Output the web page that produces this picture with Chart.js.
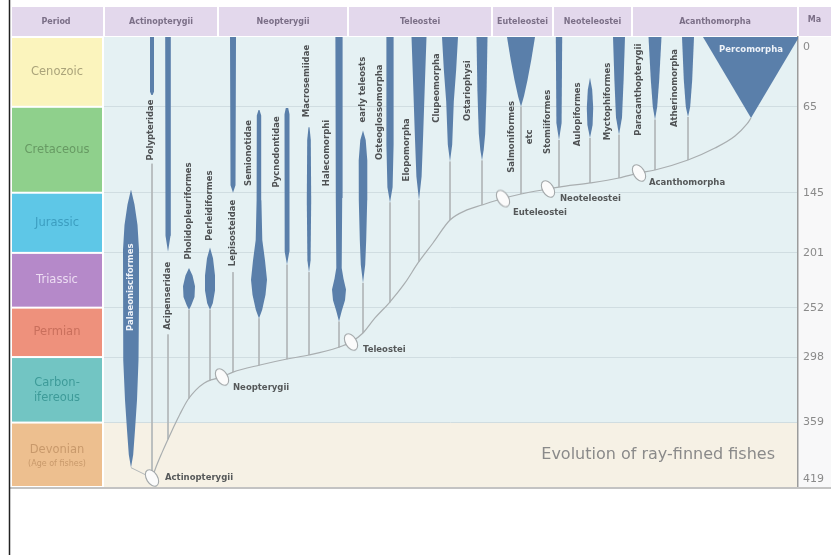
<!DOCTYPE html>
<html>
<head>
<meta charset="utf-8">
<script src="https://cdn.jsdelivr.net/npm/chart.js@4.4.0/dist/chart.umd.min.js"></script>
<style>
  body { margin: 0; background: #fff; }
  canvas { display: block; }
</style>
</head>
<body>
<canvas id="fishchart" width="831" height="555"></canvas>
<script>
// geological time scale, millions of years ago
const periodNames = ["Cenozoic", "Cretaceous", "Jurassic", "Triassic", "Permian", "Carbon-\nifereous", "Devonian\n(Age of fishes)"];
const periodStart = [0, 65, 145, 201, 252, 298, 359];
const periodEnd = [65, 145, 201, 252, 298, 359, 419];
const periodColors = ["#fbf4bd", "#8fd08c", "#5ec7e7", "#b589c9", "#ee917c", "#72c5c3", "#edbf8f"];
const periodTextColors = ["#aaa37a", "#679a63", "#3c9ec0", "#ecdcf2", "#c96f5c", "#3e9b99", "#c8996b"];
const maTicks = [0, 65, 145, 201, 252, 298, 359, 419];

// header groups (x in chart units)
const groupNames = ["Actinopterygii", "Neopterygii", "Teleostei", "Euteleostei", "Neoteleostei", "Acanthomorpha"];
const groupEdges = [0, 114, 244, 388, 449, 528, 694];

// lineages
const lineageNames = ["Palaeonisciformes", "Polypteridae", "Acipenseridae", "Pholidopleuriformes", "Perleidiformes",
  "Lepisosteidae", "Semionotidae", "Pycnodontidae", "Macrosemiidae", "Halecomorphi", "early teleosts",
  "Osteoglossomorpha", "Elopomorpha", "Clupeomorpha", "Ostariophysi", "Salmoniformes\netc", "Stomiiformes",
  "Aulopiformes", "Myctophiformes", "Paracanthopterygii", "Atherinomorpha", "Percomorpha"];
const lineageX = [27, 48, 64, 85, 106, 129, 155, 183, 205, 235, 259, 286, 315, 346, 378, 417, 455, 486, 515, 551, 584, 647];
// diversity profiles: [Ma, half width]
const profiles = [
  [[142, 0], [156, 3.5], [175, 6.5], [198, 8], [245, 8], [301, 7.5], [338, 6], [366, 4], [389, 2.2], [401, 0]],
  [[0, 2], [51, 2], [54, 0.6]],
  [[0, 2.8], [185, 2.5], [200, 0]],
  [[215, 0], [222, 3.5], [232, 6], [242, 5.5], [250, 2.2], [254, 0]],
  [[196, 0], [206, 3], [222, 5], [236, 5], [248, 2.8], [254, 0]],
  [[0, 3], [138, 2.5], [145, 0]],
  [[68, 0.5], [73, 2.2], [152, 2.4], [189, 3.3], [208, 6], [226, 8], [240, 6.5], [254, 3.2], [262, 0]],
  [[66, 1.2], [72, 2.5], [200, 2.3], [212, 0]],
  [[84, 0.5], [96, 1.8], [152, 2.2], [208, 1.6], [219, 0]],
  [[0, 3.6], [150, 3.2], [215, 2.7], [225, 4.5], [235, 7], [245, 6], [255, 2.8], [265, 0]],
  [[87, 0], [96, 2.7], [115, 4.3], [152, 4.2], [189, 3.2], [212, 2.2], [229, 0]],
  [[0, 3.6], [100, 3.6], [140, 2.6], [154, 0]],
  [[0, 7.5], [40, 6], [90, 4.2], [130, 2.6], [152, 0]],
  [[0, 8], [30, 6.2], [60, 3.8], [100, 2.2], [116, 0]],
  [[0, 5.5], [50, 4.6], [90, 3.2], [105, 1.7], [115, 0]],
  [[0, 14], [20, 10.5], [40, 6.5], [55, 3], [65, 0]],
  [[0, 3.2], [80, 2.6], [96, 0]],
  [[38, 0], [49, 2.2], [66, 3.2], [82, 2.6], [94, 0]],
  [[0, 6], [40, 4.6], [75, 3], [91, 0]],
  [[0, 6.5], [40, 4.2], [65, 2.2], [77, 0]],
  [[0, 6], [40, 4.2], [65, 2.2], [74.5, 0]],
  [[0, 48], [75.5, 0]]
];
// thin lines down to the backbone: [from Ma, to Ma]
const stemTop = [401, 118, 277, 254, 254, 219, 262, 212, 219, 265, 229, 154, 152, 116, 115, 65, 96, 94, 91, 77, 74.5, null];
const stemJoin = [410.6, 410.6, 374.5, 336.4, 319.8, 312, 305.7, 300, 296, 289, 275.6, 247, 209, 170.3, 156.3, 146.2, 139.7, 136, 131.3, 123.8, 114.5, null];
const stemToNode = {"Palaeonisciformes": "Actinopterygii"};

// label anchors
const labelX = [27, 47, 64, 85, 106, 129, 145, 173, 203, 223, 259, 276, 303, 333, 364, 417, 444, 474, 504, 535, 571, 647];
const labelMa = [233, 86.6, 241, 162, 157, 182.5, 108, 107, 41, 108, 49, 70, 105, 47.5, 50, 93, 79, 72, 60, 49, 47.5, 12];
const whiteLabels = ["Palaeonisciformes", "Percomorpha"];

// backbone of the tree
const backboneX = [48, 53, 58, 64, 70, 76, 84, 92, 100, 108, 118, 129, 156, 183, 205, 234, 247, 259, 271, 285, 301, 314, 329, 346, 363, 378, 399, 417, 444, 455, 486, 515, 535, 551, 584, 611, 631, 643, 647];
const backboneMa = [410.6, 398, 387, 374.5, 362.5, 351, 337.5, 328.5, 322.3, 319, 316.6, 312, 305.4, 299.8, 296.1, 289.1, 284, 275.6, 261.6, 247.7, 229, 210.4, 191.8, 170.4, 161, 156.4, 150.4, 146.2, 141.5, 139.7, 135.9, 131.3, 126.6, 123.8, 114.5, 103.4, 92.2, 81, 75.4];

// branching nodes
const nodeNames = ["Actinopterygii", "Neopterygii", "Teleostei", "Euteleostei", "Neoteleostei", "Acanthomorpha"];
const nodeX = [48, 118, 247, 399, 444, 535];
const nodeMa = [410.6, 316.6, 284, 150.4, 141.5, 126.6];
const nodeLabelDx = [13, 11, 12, 10, 12, 10];
const nodeLabelDy = [0, 11, 8, 14, 10, 10];

const spindleBlue = "#5a7faa";
const labelFont = "bold 8.5px 'DejaVu Sans'";

function makeNodeIcon() {
    const c = document.createElement("canvas");
    c.width = 22;
    c.height = 24;
    const g = c.getContext("2d");
    g.translate(11, 12);
    g.rotate(-0.55);
    g.beginPath();
    g.ellipse(0, 0, 5.5, 9, 0, 0, Math.PI * 2);
    g.fillStyle = "#fbfbfb";
    g.fill();
    g.strokeStyle = "#a3a8aa";
    g.lineWidth = 1.1;
    g.stroke();
    return c;
}

function outline(i) {
    const x0 = lineageX[i];
    const left = profiles[i].map(p => ({x: x0 - p[1], y: p[0]}));
    const right = profiles[i].slice().reverse().map(p => ({x: x0 + p[1], y: p[0]}));
    return left.concat(right);
}

const datasets = [];
datasets.push({
    label: "nodes",
    data: nodeX.map((x, i) => ({x: x, y: nodeMa[i]})),
    pointStyle: makeNodeIcon(),
    pointRadius: 8,
    showLine: false,
    order: 0
});
lineageNames.forEach((name, i) => {
    datasets.push({
        label: name,
        data: outline(i),
        showLine: true,
        fill: "shape",
        backgroundColor: spindleBlue,
        borderColor: "transparent",
        borderWidth: 0,
        pointRadius: 0,
        order: 1
    });
});
datasets.push({
    label: "backbone",
    data: backboneX.map((x, i) => ({x: x, y: backboneMa[i]})),
    showLine: true,
    fill: false,
    borderColor: "#a9aeb0",
    borderWidth: 1.2,
    cubicInterpolationMode: "monotone",
    pointRadius: 0,
    order: 2
});
lineageNames.forEach((name, i) => {
    if (stemTop[i] === null) return;
    let endX = lineageX[i];
    if (stemToNode[name]) endX = nodeX[nodeNames.indexOf(stemToNode[name])];
    datasets.push({
        label: name + " stem",
        data: [{x: lineageX[i], y: stemTop[i]}, {x: endX, y: stemJoin[i]}],
        showLine: true,
        fill: false,
        borderColor: "#b3b8ba",
        borderWidth: 1,
        pointRadius: 0,
        order: 3
    });
});

const decorPlugin = {
    id: "decor",
    beforeDraw(chart) {
        const ctx = chart.ctx;
        const a = chart.chartArea;
        const xs = chart.scales.x, ys = chart.scales.y;
        ctx.save();
        // plot background
        ctx.fillStyle = "#e5f1f3";
        ctx.fillRect(a.left, a.top, a.right - a.left, ys.getPixelForValue(359) - a.top);
        ctx.fillStyle = "#f6f1e5";
        ctx.fillRect(a.left, ys.getPixelForValue(359), a.right - a.left, a.bottom - ys.getPixelForValue(359));
        // Ma column
        ctx.fillStyle = "#f8f8f9";
        ctx.fillRect(a.right, a.top, chart.width - a.right, a.bottom - a.top);
        // header band
        ctx.fillStyle = "#e3d8ec";
        ctx.fillRect(12, 7, chart.width - 12, a.top - 8);
        ctx.font = "bold 8px 'DejaVu Sans'";
        ctx.fillStyle = "#7b6f87";
        ctx.textAlign = "center";
        ctx.textBaseline = "middle";
        ctx.fillText("Period", 56, 22);
        ctx.fillText("Ma", (a.right + chart.width) / 2, 20);
        groupNames.forEach((g, i) => {
            const x1 = xs.getPixelForValue(groupEdges[i]);
            const x2 = xs.getPixelForValue(groupEdges[i + 1]);
            ctx.fillText(g, (x1 + x2) / 2, 22);
        });
        ctx.strokeStyle = "#ffffff";
        ctx.lineWidth = 2;
        groupEdges.forEach(e => {
            const x = Math.round(xs.getPixelForValue(e));
            ctx.beginPath();
            ctx.moveTo(x, 7);
            ctx.lineTo(x, a.top - 1);
            ctx.stroke();
        });
        // period column
        periodNames.forEach((p, i) => {
            const y1 = ys.getPixelForValue(periodStart[i]);
            const y2 = ys.getPixelForValue(periodEnd[i]);
            ctx.fillStyle = periodColors[i];
            ctx.fillRect(12, y1 + 1, a.left - 14, y2 - y1 - 2);
            ctx.fillStyle = periodTextColors[i];
            const lines = p.split("\n");
            const cx = (12 + a.left - 2) / 2;
            const cy = (y1 + y2) / 2;
            ctx.font = "11.5px 'DejaVu Sans'";
            if (lines.length === 1) {
                ctx.fillText(p, cx, cy);
            } else if (i === 5) {
                ctx.fillText(lines[0], cx, cy - 7);
                ctx.fillText(lines[1], cx, cy + 8);
            } else {
                ctx.fillText(lines[0], cx, cy - 5);
                ctx.font = "8px 'DejaVu Sans'";
                ctx.fillText(lines[1], cx, cy + 9);
            }
        });
        ctx.restore();
    },
    afterDraw(chart) {
        const ctx = chart.ctx;
        const a = chart.chartArea;
        const xs = chart.scales.x, ys = chart.scales.y;
        ctx.save();
        // lineage labels
        ctx.font = labelFont;
        ctx.textAlign = "center";
        ctx.textBaseline = "middle";
        lineageNames.forEach((name, i) => {
            const px = xs.getPixelForValue(labelX[i]);
            const py = ys.getPixelForValue(labelMa[i]);
            ctx.fillStyle = whiteLabels.includes(name) ? "#eef2f8" : "#4f5254";
            if (name === "Percomorpha") {
                ctx.fillText(name, px, py);
                return;
            }
            const lines = name.split("\n");
            ctx.save();
            ctx.translate(px, py);
            ctx.rotate(-Math.PI / 2);
            lines.forEach((t, k) => {
                ctx.fillText(t, 0, (k - (lines.length - 1) / 2) * 18);
            });
            ctx.restore();
        });
        // node labels
        ctx.textAlign = "left";
        ctx.fillStyle = "#555859";
        nodeNames.forEach((n, i) => {
            ctx.fillText(n, xs.getPixelForValue(nodeX[i]) + nodeLabelDx[i], ys.getPixelForValue(nodeMa[i]) + nodeLabelDy[i]);
        });
        // Ma labels
        ctx.font = "11px 'DejaVu Sans'";
        ctx.fillStyle = "#8a8a8a";
        maTicks.forEach(v => {
            let y = ys.getPixelForValue(v);
            if (v === 0) y += 10;
            if (v === 419) y -= 8;
            ctx.fillText(String(v), a.right + 5, y);
        });
        // title
        ctx.font = "16px 'DejaVu Sans'";
        ctx.fillStyle = "#8a8a8a";
        ctx.textAlign = "right";
        ctx.fillText("Evolution of ray-finned fishes", 775, 455);
        // frame
        ctx.strokeStyle = "#c3c3c3";
        ctx.lineWidth = 2;
        ctx.beginPath();
        ctx.moveTo(10, a.bottom + 1);
        ctx.lineTo(chart.width, a.bottom + 1);
        ctx.stroke();
        ctx.strokeStyle = "#222";
        ctx.lineWidth = 1.5;
        ctx.beginPath();
        ctx.moveTo(9.5, 0);
        ctx.lineTo(9.5, chart.height);
        ctx.stroke();
        ctx.restore();
    }
};

new Chart(document.getElementById("fishchart"), {
    type: "scatter",
    data: {datasets: datasets},
    options: {
        responsive: false,
        animation: false,
        devicePixelRatio: 1,
        events: [],
        layout: {padding: {left: 104, right: 33, top: 37, bottom: 68}},
        plugins: {legend: {display: false}, tooltip: {enabled: false}},
        scales: {
            x: {type: "linear", min: 0, max: 694, display: false},
            y: {
                type: "linear",
                position: "right",
                reverse: true,
                min: 0,
                max: 419,
                afterBuildTicks: s => { s.ticks = maTicks.map(v => ({value: v})); },
                ticks: {display: false},
                grid: {
                    drawTicks: false,
                    color: c => (c.tick && (c.tick.value === 0 || c.tick.value === 419)) ? "transparent" : "#d0dde1",
                    lineWidth: 1
                },
                border: {display: true, color: "#9b9b9b", width: 1.5}
            }
        }
    },
    plugins: [decorPlugin]
});
</script>
</body>
</html>
